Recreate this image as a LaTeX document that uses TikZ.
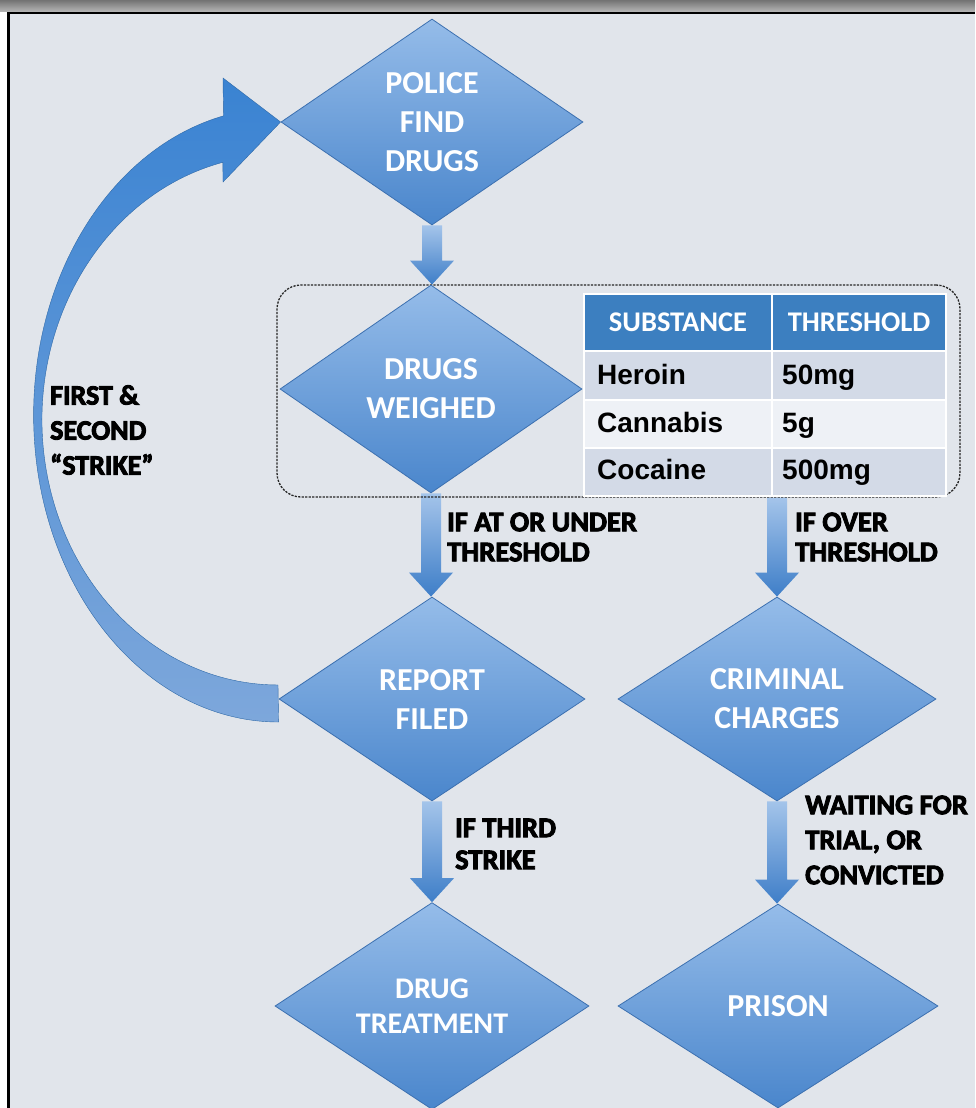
\documentclass[tikz,border=0pt]{standalone}
\usepackage{fontspec}
\usetikzlibrary{shapes.geometric,calc}
\newfontfamily\carl{Carlito}
\newfontfamily\libsans{Liberation Sans}
\definecolor{bgc}{HTML}{E1E5EB}
\definecolor{diaTop}{HTML}{95BCE9}
\definecolor{diaBot}{HTML}{4A86CC}
\definecolor{diaEdge}{HTML}{3C70B0}
\definecolor{arrTop}{HTML}{A4C4EA}
\definecolor{arrBot}{HTML}{3E7EC8}
\definecolor{curTop}{HTML}{3A83D2}
\definecolor{curBot}{HTML}{7DA7DB}
\definecolor{hdrc}{HTML}{3C7FC0}
\definecolor{rowA}{HTML}{D3DAE7}
\definecolor{rowB}{HTML}{EEF1F6}
\newcommand\heavytext[1]{\special{pdf:literal direct 2 Tr 0.9 w}#1\special{pdf:literal direct 0 Tr 1 w}}
\pgfdeclarelayer{bg}
\pgfdeclarelayer{arr}
\pgfsetlayers{bg,arr,main}
\newcommand\blockarrow[2]{%
  \path[barrow] let \p1=#1, \p2=#2 in
    (\x1-10pt,\y1) -- (\x1-10pt,\y2+24pt) -- (\x1-22pt,\y2+24pt) --
    (\x1,\y2) -- (\x1+22pt,\y2+24pt) -- (\x1+10pt,\y2+24pt) --
    (\x1+10pt,\y1) -- cycle;}
\begin{document}
\begin{tikzpicture}[x=1pt,y=-1pt,
  dia/.style={shape=diamond, inner sep=0pt, top color=diaTop, bottom color=diaBot,
    draw=diaEdge, line width=0.8pt, text=white, align=center,
    font=\carl\bfseries\fontsize{32}{39}\selectfont},
  lab/.style={anchor=west, inner sep=0pt, align=left, text=black},
  barrow/.style={top color=arrTop, bottom color=arrBot},
  carrow/.style={top color=curTop, bottom color=curBot, draw=curTop!80!black, line width=0.4pt},
  hcell/.style={fill=hdrc, inner sep=0pt, text=white,
    font=\carl\bfseries\fontsize{28.5}{30}\selectfont},
  cell/.style={inner sep=0pt},
  ctext/.style={anchor=base west, inner sep=0pt, text=black,
    font=\libsans\bfseries\fontsize{28}{30}\selectfont},
  grpbox/.style={draw=black!85, line width=1.3pt, dash pattern=on 2.2pt off 1.3pt,
    rounded corners=24pt, inner sep=0pt}
]
\useasboundingbox (0,0) rectangle (975,1108);
% frame
\begin{pgfonlayer}{bg}
  \fill[bgc] (0,0) rectangle (975,1108);
  \shade[top color=black!55, bottom color=black!28] (0,0) rectangle (975,12);
  \fill[white] (0,12) rectangle (7,1108);
  \fill[black] (7,12) rectangle (975,14.5);
  \fill[black] (7,12) rectangle (9.5,1108);
\end{pgfonlayer}

% group box
\node[grpbox, minimum width=683pt, minimum height=212pt] (grp) at (618.5,391) {};

% table
\fill[white] (583,293) rectangle (947,497);
\node[hcell, minimum width=186pt, minimum height=55pt] (h1) at (678,322.5) {SUBSTANCE};
\node[hcell, minimum width=172pt, minimum height=55pt] (h2) at (859,322.5) {THRESHOLD};
\node[cell, fill=rowA, minimum width=186pt, minimum height=47pt] (r1a) at (678,375.5) {};
\node[cell, fill=rowA, minimum width=172pt, minimum height=47pt] (r1b) at (859,375.5) {};
\node[cell, fill=rowB, minimum width=186pt, minimum height=46pt] (r2a) at (678,424) {};
\node[cell, fill=rowB, minimum width=172pt, minimum height=46pt] (r2b) at (859,424) {};
\node[cell, fill=rowA, minimum width=186pt, minimum height=46pt] (r3a) at (678,472) {};
\node[cell, fill=rowA, minimum width=172pt, minimum height=46pt] (r3b) at (859,472) {};
\node[ctext] (t1a) at (597,384) {Heroin};
\node[ctext] (t1b) at (782,384) {50mg};
\node[ctext] (t2a) at (597,432) {Cannabis};
\node[ctext] (t2b) at (782,432) {5g};
\node[ctext] (t3a) at (597,479) {Cocaine};
\node[ctext] (t3b) at (782,479) {500mg};

% diamonds
\node[dia, minimum width=302pt, minimum height=206pt] (police) at (432,122) {POLICE\\FIND\\DRUGS};
\node[dia, minimum width=302pt, minimum height=208pt] (weighed) at (431,389) {DRUGS\\WEIGHED};
\node[dia, minimum width=306pt, minimum height=204pt] (report) at (432,699) {REPORT\\FILED};
\node[dia, minimum width=318pt, minimum height=204pt] (criminal) at (777,699) {CRIMINAL\\CHARGES};
\node[dia, minimum width=314pt, minimum height=204pt,
  font=\carl\bfseries\fontsize{30}{35}\selectfont] (treat) at (432,1006) {DRUG\\TREATMENT};
\node[dia, minimum width=320pt, minimum height=204pt] (prison) at (778,1006) {PRISON};

% connectors
\begin{pgfonlayer}{arr}
  \blockarrow{(police.south)}{(weighed.north)}
  \blockarrow{(weighed.south)}{(report.north)}
  \blockarrow{(criminal.north |- grp.south)}{(criminal.north)}
  \blockarrow{(report.south)}{(treat.north)}
  \blockarrow{(criminal.south)}{(prison.north)}
  \path[carrow] ($(report.west)+(0,23)$)
     arc[start angle=90, end angle=257, x radius=245, y radius=307]
     -- (223,78) -- (police.west) -- (223,182) -- (222.9,162.3)
     arc[start angle=256.5, end angle=90, x radius=236, y radius=265]
     -- cycle;
\end{pgfonlayer}

% labels
\node[lab, font=\carl\bfseries\fontsize{28.5}{30}\selectfont] (l1) at (447,537) {\heavytext{IF AT OR UNDER\\THRESHOLD}};
\node[lab, font=\carl\bfseries\fontsize{28.5}{30}\selectfont] (l2) at (795,537) {\heavytext{IF OVER\\THRESHOLD}};
\node[lab, font=\carl\bfseries\fontsize{28.5}{32}\selectfont] (l3) at (455,844) {\heavytext{IF THIRD\\STRIKE}};
\node[lab, font=\carl\bfseries\fontsize{28.5}{35}\selectfont] (l4) at (805,840) {\heavytext{WAITING FOR\\TRIAL, OR\\CONVICTED}};
\node[lab, font=\carl\bfseries\fontsize{28}{35}\selectfont] (l5) at (50,430) {\heavytext{FIRST \&\\SECOND\\“STRIKE”}};
\end{tikzpicture}
\end{document}
